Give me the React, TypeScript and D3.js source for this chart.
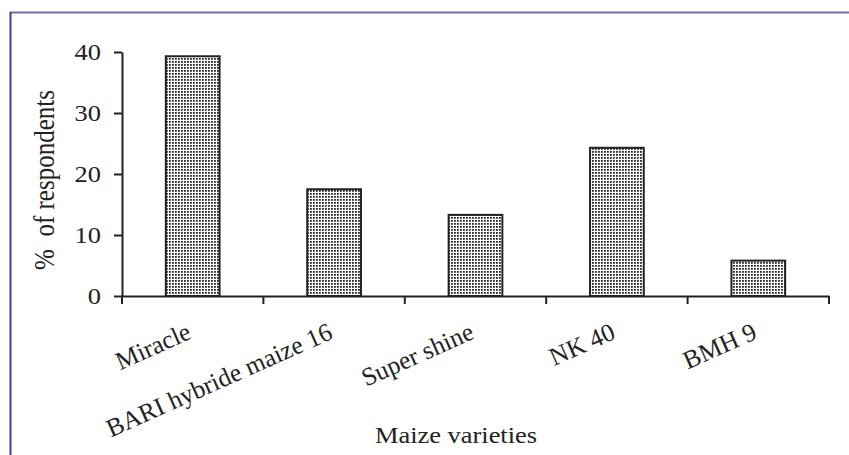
import { useRef, useEffect } from 'react';
import * as d3 from 'd3';

const categories = ['Miracle', 'BARI hybride maize 16', 'Super shine', 'NK 40', 'BMH 9'];
const values = [39.3, 17.5, 13.3, 24.3, 5.8];
const yTicks = [0, 10, 20, 30, 40];

const width = 849;
const height = 455;
// the original figure is stretched sideways a little, text included
const stretch = 1.15;

export default function App() {
    const svgRef = useRef<SVGSVGElement | null>(null);

    useEffect(() => {
        if (!svgRef.current) return;
        const root = d3.select(svgRef.current);
        root.selectAll('*').remove();

        const margin = { top: 52, right: 20, bottom: 159, left: 122 };
        const xEnd = 829;
        const font = '"Liberation Serif", "Times New Roman", serif';

        // page frame (blue rules on top and left)
        root.append('line')
            .attr('x1', 10).attr('x2', width).attr('y1', 12.5).attr('y2', 12.5)
            .attr('stroke', '#6f6fb3').attr('stroke-width', 2);
        root.append('line')
            .attr('x1', 10.5).attr('x2', 10.5).attr('y1', 12).attr('y2', height)
            .attr('stroke', '#3c3ca8').attr('stroke-width', 2);

        // dotted fill pattern
        const defs = root.append('defs');
        const pat = defs.append('pattern')
            .attr('id', 'dots')
            .attr('patternUnits', 'userSpaceOnUse')
            .attr('width', 3).attr('height', 3);
        pat.append('rect').attr('width', 3).attr('height', 3).attr('fill', '#fff');
        pat.append('rect').attr('x', 1).attr('y', 1).attr('width', 1.8).attr('height', 1.8).attr('fill', '#262626');

        const x = d3.scaleBand<string>()
            .domain(categories)
            .range([margin.left, xEnd])
            .paddingInner(0.62)
            .paddingOuter(0.31);

        const y = d3.scaleLinear()
            .domain([0, 40])
            .range([296, margin.top]);

        const band = d3.scaleBand<string>().domain(categories).range([margin.left, xEnd]);

        // bars
        root.append('g')
            .selectAll('rect')
            .data(categories)
            .enter().append('rect')
            .attr('x', d => x(d) as number)
            .attr('y', (_, i) => y(values[i]))
            .attr('width', x.bandwidth())
            .attr('height', (_, i) => y(0) - y(values[i]))
            .attr('fill', 'url(#dots)')
            .attr('stroke', '#222')
            .attr('stroke-width', 2);

        // y axis
        const yAxis = root.append('g')
            .attr('transform', `translate(${margin.left},0)`)
            .call(d3.axisLeft(y).tickValues(yTicks).tickSize(8).tickPadding(13).tickSizeOuter(0));
        yAxis.select('.domain').attr('stroke', '#222').attr('stroke-width', 2);
        yAxis.selectAll('.tick line').attr('stroke', '#222').attr('stroke-width', 2);
        yAxis.selectAll('.tick text')
            .attr('x', 0)
            .attr('transform', `translate(-21,0) scale(${stretch},1)`)
            .attr('font-family', font).attr('font-size', 23).attr('fill', '#222');

        // x axis
        const xAxis = root.append('g')
            .attr('transform', `translate(0,${y(0)})`)
            .call(d3.axisBottom(band).tickSize(0).tickFormat(() => ''));
        xAxis.select('.domain').attr('stroke', '#222').attr('stroke-width', 2);
        xAxis.selectAll('.tick').remove();

        const edges = [...categories.map(c => band(c) as number), xEnd];
        xAxis.selectAll('line.edge')
            .data(edges)
            .enter().append('line')
            .attr('class', 'edge')
            .attr('x1', d => d).attr('x2', d => d)
            .attr('y1', 0).attr('y2', 8)
            .attr('stroke', '#222').attr('stroke-width', 2);

        // category labels
        root.append('g')
            .selectAll('text')
            .data(categories)
            .enter().append('text')
            .attr('transform', d => `translate(${(band(d) as number) + band.bandwidth() / 2},${y(0) + 42}) rotate(-24)`)
            .attr('text-anchor', 'end')
            .attr('font-family', font)
            .attr('font-size', 25.5)
            .attr('fill', '#222')
            .text(d => d);

        // axis titles
        root.append('text')
            .attr('transform', `translate(456,443) scale(${stretch},1)`)
            .attr('text-anchor', 'middle')
            .attr('font-family', font).attr('font-size', 23).attr('fill', '#222')
            .text('Maize varieties');

        root.append('text')
            .attr('transform', `translate(54,180) scale(${stretch},1) rotate(-90)`)
            .attr('text-anchor', 'middle')
            .attr('font-family', font).attr('font-size', 25).attr('fill', '#222')
            .style('white-space', 'pre')
            .text('%  of respondents');
    }, []);

    return <svg ref={svgRef} width={width} height={height} style={{ display: 'block', position: 'absolute', left: 0, top: 0 }} />;
}
